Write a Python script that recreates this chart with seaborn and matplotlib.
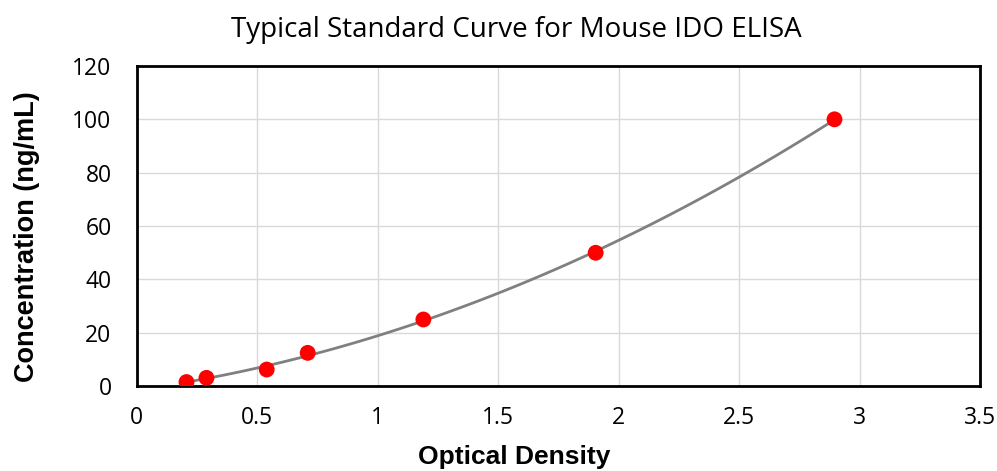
import pandas as pd
import seaborn as sns
import matplotlib.pyplot as plt

# standard points
od = [0.207, 0.29, 0.54, 0.71, 1.19, 1.905, 2.896]
conc = [1.56, 3.13, 6.25, 12.5, 25, 50, 100]
xticks = [0, 0.5, 1, 1.5, 2, 2.5, 3, 3.5]
yticks = [0, 20, 40, 60, 80, 100, 120]

df = pd.DataFrame({"od": od, "conc": conc})

sns.set_style("white")
plt.rcParams['font.family'] = ['Liberation Sans', 'DejaVu Sans']
plt.rcParams['text.color'] = 'black'
plt.rcParams['axes.labelcolor'] = 'black'
plt.rcParams['xtick.color'] = 'black'
plt.rcParams['ytick.color'] = 'black'

fig, ax = plt.subplots(figsize=(9.97, 4.71), dpi=100)
fig.subplots_adjust(left=0.137, right=0.983, top=0.86, bottom=0.18)

sns.regplot(x="od", y="conc", data=df, order=2, ci=None, ax=ax,
            scatter_kws={"s": 130, "color": "#ff0000", "alpha": 1, "zorder": 3,
                         "edgecolor": "none"},
            line_kws={"color": "#808080", "lw": 2, "zorder": 2})

ax.set_xlim(0, 3.5)
ax.set_ylim(0, 120)
ax.set_xticks(xticks)
ax.set_yticks(yticks)
tick_font = ['Open Sans', 'DejaVu Sans']
ax.set_xticklabels([f"{t:g}" for t in xticks], family=tick_font)
ax.set_yticklabels([f"{t:g}" for t in yticks], family=tick_font)
ax.tick_params(direction="in", length=7, width=1.5, labelsize=16.5)
ax.tick_params(axis="x", pad=14)
ax.tick_params(axis="y", pad=18)
ax.grid(True, color="#d9d9d9", lw=1)
ax.set_axisbelow(True)
for s in ax.spines.values():
    s.set_color("black")
    s.set_linewidth(2)

ax.set_xlabel("Optical Density", fontsize=19, fontweight="bold")
ax.set_ylabel("Concentration (ng/mL)", fontsize=19.5, fontweight="bold")
ax.xaxis.set_label_coords(0.448, -0.185)
ax.yaxis.set_label_coords(-0.114, 0.466)
fig.suptitle("Typical Standard Curve for Mouse IDO ELISA", fontsize=20,
             family=['Open Sans', 'DejaVu Sans'], x=0.518, y=0.965)

plt.savefig("out.png")
